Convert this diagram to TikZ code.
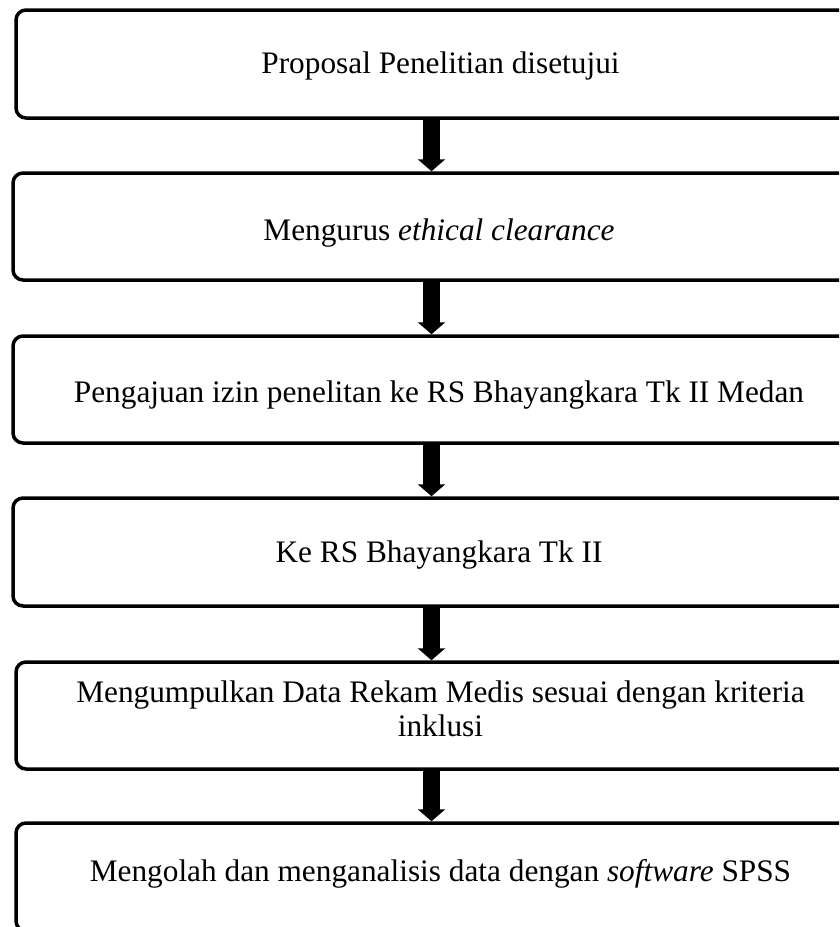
\documentclass[tikz,border=0pt]{standalone}
\usepackage{fontspec}
\setmainfont{Liberation Serif}
\usetikzlibrary{arrows.meta,calc}
\tikzset{
  flowbox/.style={draw=black, line width=3.5pt, rounded corners=10pt, minimum width=849pt, inner sep=0pt},
  flowtext/.style={align=center, inner sep=0pt, font=\fontsize{31.3}{34}\selectfont},
  flowarrow/.style={line width=17pt, -{Triangle[width=27pt,length=12pt]}, black}
}
\begin{document}
\begin{tikzpicture}[x=1pt,y=-1pt]
\useasboundingbox (0,0) rectangle (839,927);
\clip (0,0) rectangle (839,927);
\node[flowbox, minimum height=108pt] (b1) at (440.5,64) {};
\node[flowbox, minimum width=852pt, minimum height=107pt] (b2) at (439,226.5) {};
\node[flowbox, minimum width=852pt, minimum height=107pt] (b3) at (439,389.5) {};
\node[flowbox, minimum width=852pt, minimum height=108pt] (b4) at (439,552) {};
\node[flowbox, minimum height=107pt] (b5) at (440.5,715.5) {};
\node[flowbox, minimum height=108pt] (b6) at (440.5,877) {};
\node[flowtext] (t1) at ($(b1.center)+(0,2)$) {Proposal Penelitian disetujui};
\node[flowtext] (t2) at ($(b2.center)+(0,7)$) {Mengurus \textit{ethical clearance}};
\node[flowtext] (t3) at ($(b3.center)+(0,6)$) {Pengajuan izin penelitan ke RS Bhayangkara Tk II Medan};
\node[flowtext] (t4) at ($(b4.center)+(0,3)$) {Ke RS Bhayangkara Tk II};
\node[flowtext] (t5) at ($(b5.center)+(0,-7)$) {Mengumpulkan Data Rekam Medis sesuai dengan kriteria\\inklusi};
\node[flowtext] (t6) at ($(b6.center)+(0,-3)$) {Mengolah dan menganalisis data dengan \textit{software} SPSS};
\coordinate (ax) at (431.5,0);
\draw[flowarrow] (b1.south -| ax) -- (b2.north -| ax);
\draw[flowarrow] (b2.south -| ax) -- (b3.north -| ax);
\draw[flowarrow] (b3.south -| ax) -- (b4.north -| ax);
\draw[flowarrow] (b4.south -| ax) -- (b5.north -| ax);
\draw[flowarrow] (b5.south -| ax) -- (b6.north -| ax);
\end{tikzpicture}
\end{document}
